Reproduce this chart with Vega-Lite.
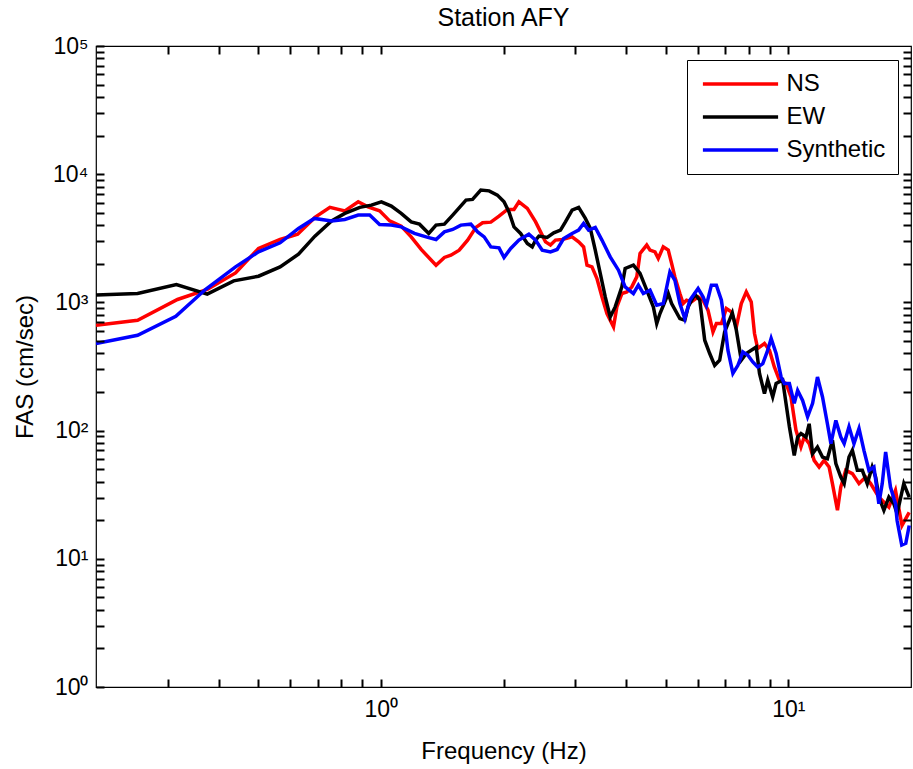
{
  "$schema": "https://vega.github.io/schema/vega-lite/v6.json",
  "width": 815,
  "height": 641,
  "autosize": {"type": "none"},
  "padding": {"left": 96, "top": 46, "right": 2, "bottom": 82},
  "background": "white",
  "config": {
    "view": {"stroke": "black", "strokeWidth": 1.2},
    "font": "Liberation Sans",
    "axis": {"grid": false, "domain": false, "ticks": true, "tickOpacity": 1, "tickColor": "#000000", "tickWidth": 2, "tickSize": 8, "offset": -8, "zindex": 1, "labelColor": "black", "titleColor": "black", "labelFont": "Liberation Sans", "titleFont": "Liberation Sans"}
  },
  "title": {"text": "Station AFY", "fontSize": 25, "fontWeight": "normal", "font": "Liberation Sans", "color": "black", "baseline": "alphabetic", "offset": 0, "dy": 16, "anchor": "middle"},
  "data": {"values": [
    {"s": "NS", "f": 0.2, "v": 664}, {"s": "NS", "f": 0.253, "v": 726}, {"s": "NS", "f": 0.317, "v": 1054}, {"s": "NS", "f": 0.375, "v": 1261}, {"s": "NS", "f": 0.44, "v": 1699}, {"s": "NS", "f": 0.501, "v": 2636}, {"s": "NS", "f": 0.566, "v": 3097}, {"s": "NS", "f": 0.625, "v": 3406}, {"s": "NS", "f": 0.689, "v": 4603}, {"s": "NS", "f": 0.75, "v": 5508}, {"s": "NS", "f": 0.816, "v": 5176}, {"s": "NS", "f": 0.88, "v": 6093}, {"s": "NS", "f": 0.93, "v": 5569}, {"s": "NS", "f": 0.993, "v": 5176}, {"s": "NS", "f": 1.051, "v": 4325}, {"s": "NS", "f": 1.122, "v": 3936}, {"s": "NS", "f": 1.187, "v": 3246}, {"s": "NS", "f": 1.256, "v": 2588}, {"s": "NS", "f": 1.366, "v": 1950}, {"s": "NS", "f": 1.432, "v": 2241}, {"s": "NS", "f": 1.486, "v": 2336}, {"s": "NS", "f": 1.557, "v": 2556}, {"s": "NS", "f": 1.633, "v": 3062}, {"s": "NS", "f": 1.711, "v": 3846}, {"s": "NS", "f": 1.777, "v": 4178}, {"s": "NS", "f": 1.862, "v": 4227}, {"s": "NS", "f": 1.95, "v": 4710}, {"s": "NS", "f": 2.045, "v": 5309}, {"s": "NS", "f": 2.122, "v": 5309}, {"s": "NS", "f": 2.182, "v": 6093}, {"s": "NS", "f": 2.288, "v": 5408}, {"s": "NS", "f": 2.398, "v": 4248}, {"s": "NS", "f": 2.466, "v": 3548}, {"s": "NS", "f": 2.536, "v": 2965}, {"s": "NS", "f": 2.608, "v": 2799}, {"s": "NS", "f": 2.683, "v": 3062}, {"s": "NS", "f": 2.786, "v": 3097}, {"s": "NS", "f": 2.947, "v": 3246}, {"s": "NS", "f": 3.058, "v": 2965}, {"s": "NS", "f": 3.145, "v": 2710}, {"s": "NS", "f": 3.206, "v": 1950}, {"s": "NS", "f": 3.297, "v": 1892}, {"s": "NS", "f": 3.391, "v": 1537}, {"s": "NS", "f": 3.488, "v": 1104}, {"s": "NS", "f": 3.588, "v": 819}, {"s": "NS", "f": 3.724, "v": 644}, {"s": "NS", "f": 3.795, "v": 922}, {"s": "NS", "f": 3.904, "v": 1173}, {"s": "NS", "f": 4.015, "v": 1208}, {"s": "NS", "f": 4.129, "v": 1321}, {"s": "NS", "f": 4.247, "v": 1581}, {"s": "NS", "f": 4.326, "v": 2409}, {"s": "NS", "f": 4.493, "v": 2799}, {"s": "NS", "f": 4.577, "v": 2556}, {"s": "NS", "f": 4.707, "v": 2479}, {"s": "NS", "f": 4.795, "v": 2202}, {"s": "NS", "f": 4.932, "v": 2710}, {"s": "NS", "f": 5.074, "v": 2556}, {"s": "NS", "f": 5.171, "v": 2014}, {"s": "NS", "f": 5.267, "v": 1581}, {"s": "NS", "f": 5.418, "v": 1173}, {"s": "NS", "f": 5.519, "v": 980}, {"s": "NS", "f": 5.626, "v": 1040}, {"s": "NS", "f": 5.786, "v": 1009}, {"s": "NS", "f": 6.005, "v": 1104}, {"s": "NS", "f": 6.175, "v": 1040}, {"s": "NS", "f": 6.351, "v": 869}, {"s": "NS", "f": 6.533, "v": 589}, {"s": "NS", "f": 6.659, "v": 684}, {"s": "NS", "f": 6.851, "v": 684}, {"s": "NS", "f": 7.045, "v": 896}, {"s": "NS", "f": 7.245, "v": 843}, {"s": "NS", "f": 7.454, "v": 644}, {"s": "NS", "f": 7.666, "v": 980}, {"s": "NS", "f": 7.885, "v": 1208}, {"s": "NS", "f": 8.11, "v": 1009}, {"s": "NS", "f": 8.26, "v": 572}, {"s": "NS", "f": 8.41, "v": 437}, {"s": "NS", "f": 8.738, "v": 478}, {"s": "NS", "f": 8.99, "v": 424}, {"s": "NS", "f": 9.24, "v": 314}, {"s": "NS", "f": 9.51, "v": 247}, {"s": "NS", "f": 9.871, "v": 233}, {"s": "NS", "f": 10.15, "v": 183}, {"s": "NS", "f": 10.44, "v": 101}, {"s": "NS", "f": 10.74, "v": 74.5}, {"s": "NS", "f": 10.94, "v": 89.1}, {"s": "NS", "f": 11.25, "v": 79.2}, {"s": "NS", "f": 11.57, "v": 58.6}, {"s": "NS", "f": 11.9, "v": 52}, {"s": "NS", "f": 12.24, "v": 58.6}, {"s": "NS", "f": 12.59, "v": 52}, {"s": "NS", "f": 12.83, "v": 38.6}, {"s": "NS", "f": 13.2, "v": 23.9}, {"s": "NS", "f": 13.45, "v": 36.3}, {"s": "NS", "f": 13.83, "v": 49}, {"s": "NS", "f": 14.36, "v": 46.2}, {"s": "NS", "f": 14.91, "v": 38.6}, {"s": "NS", "f": 15.48, "v": 43.4}, {"s": "NS", "f": 15.92, "v": 38.6}, {"s": "NS", "f": 16.68, "v": 30.3}, {"s": "NS", "f": 17.65, "v": 25.3}, {"s": "NS", "f": 18.32, "v": 34.2}, {"s": "NS", "f": 19.01, "v": 18.2}, {"s": "NS", "f": 19.8, "v": 23},
    {"s": "EW", "f": 0.2, "v": 1140}, {"s": "EW", "f": 0.253, "v": 1173}, {"s": "EW", "f": 0.315, "v": 1380}, {"s": "EW", "f": 0.375, "v": 1159}, {"s": "EW", "f": 0.4355, "v": 1472}, {"s": "EW", "f": 0.501, "v": 1601}, {"s": "EW", "f": 0.566, "v": 1892}, {"s": "EW", "f": 0.628, "v": 2378}, {"s": "EW", "f": 0.689, "v": 3289}, {"s": "EW", "f": 0.757, "v": 4325}, {"s": "EW", "f": 0.816, "v": 4943}, {"s": "EW", "f": 0.888, "v": 5508}, {"s": "EW", "f": 0.948, "v": 5741}, {"s": "EW", "f": 1.003, "v": 6093}, {"s": "EW", "f": 1.061, "v": 5636}, {"s": "EW", "f": 1.122, "v": 4943}, {"s": "EW", "f": 1.187, "v": 4248}, {"s": "EW", "f": 1.244, "v": 4077}, {"s": "EW", "f": 1.311, "v": 3451}, {"s": "EW", "f": 1.366, "v": 4008}, {"s": "EW", "f": 1.432, "v": 4077}, {"s": "EW", "f": 1.501, "v": 4797}, {"s": "EW", "f": 1.618, "v": 6279}, {"s": "EW", "f": 1.679, "v": 6356}, {"s": "EW", "f": 1.759, "v": 7516}, {"s": "EW", "f": 1.844, "v": 7413}, {"s": "EW", "f": 1.932, "v": 6871}, {"s": "EW", "f": 2.006, "v": 6093}, {"s": "EW", "f": 2.063, "v": 5083}, {"s": "EW", "f": 2.122, "v": 3882}, {"s": "EW", "f": 2.203, "v": 3451}, {"s": "EW", "f": 2.288, "v": 2884}, {"s": "EW", "f": 2.353, "v": 2710}, {"s": "EW", "f": 2.398, "v": 3062}, {"s": "EW", "f": 2.443, "v": 3289}, {"s": "EW", "f": 2.56, "v": 3213}, {"s": "EW", "f": 2.657, "v": 3491}, {"s": "EW", "f": 2.76, "v": 3664}, {"s": "EW", "f": 2.838, "v": 4248}, {"s": "EW", "f": 2.947, "v": 5248}, {"s": "EW", "f": 3.058, "v": 5508}, {"s": "EW", "f": 3.176, "v": 4519}, {"s": "EW", "f": 3.266, "v": 3776}, {"s": "EW", "f": 3.359, "v": 2556}, {"s": "EW", "f": 3.455, "v": 1682}, {"s": "EW", "f": 3.554, "v": 1104}, {"s": "EW", "f": 3.655, "v": 770}, {"s": "EW", "f": 3.759, "v": 922}, {"s": "EW", "f": 3.904, "v": 1321}, {"s": "EW", "f": 3.977, "v": 1841}, {"s": "EW", "f": 4.167, "v": 1950}, {"s": "EW", "f": 4.326, "v": 1682}, {"s": "EW", "f": 4.493, "v": 1245}, {"s": "EW", "f": 4.664, "v": 922}, {"s": "EW", "f": 4.754, "v": 684}, {"s": "EW", "f": 4.842, "v": 819}, {"s": "EW", "f": 5.074, "v": 1173}, {"s": "EW", "f": 5.171, "v": 980}, {"s": "EW", "f": 5.418, "v": 748}, {"s": "EW", "f": 5.572, "v": 726}, {"s": "EW", "f": 5.677, "v": 922}, {"s": "EW", "f": 5.895, "v": 1159}, {"s": "EW", "f": 6.063, "v": 1040}, {"s": "EW", "f": 6.235, "v": 507}, {"s": "EW", "f": 6.413, "v": 399}, {"s": "EW", "f": 6.596, "v": 323}, {"s": "EW", "f": 6.784, "v": 354}, {"s": "EW", "f": 6.977, "v": 589}, {"s": "EW", "f": 7.288, "v": 828}, {"s": "EW", "f": 7.454, "v": 607}, {"s": "EW", "f": 7.666, "v": 354}, {"s": "EW", "f": 7.885, "v": 399}, {"s": "EW", "f": 8.34, "v": 449}, {"s": "EW", "f": 8.497, "v": 279}, {"s": "EW", "f": 8.738, "v": 194}, {"s": "EW", "f": 8.902, "v": 247}, {"s": "EW", "f": 9.155, "v": 183}, {"s": "EW", "f": 9.333, "v": 233}, {"s": "EW", "f": 9.685, "v": 247}, {"s": "EW", "f": 9.871, "v": 163}, {"s": "EW", "f": 10.06, "v": 107}, {"s": "EW", "f": 10.34, "v": 64.1}, {"s": "EW", "f": 10.54, "v": 89.1}, {"s": "EW", "f": 10.74, "v": 94.8}, {"s": "EW", "f": 11.05, "v": 89.1}, {"s": "EW", "f": 11.25, "v": 113}, {"s": "EW", "f": 11.47, "v": 66.1}, {"s": "EW", "f": 11.79, "v": 74.5}, {"s": "EW", "f": 12.13, "v": 62.2}, {"s": "EW", "f": 12.47, "v": 60.4}, {"s": "EW", "f": 12.83, "v": 84}, {"s": "EW", "f": 13.08, "v": 55.3}, {"s": "EW", "f": 13.45, "v": 43.4}, {"s": "EW", "f": 13.71, "v": 38.6}, {"s": "EW", "f": 14.09, "v": 62.2}, {"s": "EW", "f": 14.36, "v": 70.2}, {"s": "EW", "f": 14.77, "v": 49}, {"s": "EW", "f": 15.19, "v": 49}, {"s": "EW", "f": 15.62, "v": 38.6}, {"s": "EW", "f": 16.06, "v": 52}, {"s": "EW", "f": 16.38, "v": 43.4}, {"s": "EW", "f": 16.68, "v": 30.3}, {"s": "EW", "f": 17.16, "v": 23.9}, {"s": "EW", "f": 17.65, "v": 30.3}, {"s": "EW", "f": 18.15, "v": 26.9}, {"s": "EW", "f": 18.49, "v": 22.5}, {"s": "EW", "f": 19.2, "v": 38.6}, {"s": "EW", "f": 19.8, "v": 30.3},
    {"s": "Synthetic", "f": 0.2, "v": 478}, {"s": "Synthetic", "f": 0.253, "v": 554}, {"s": "Synthetic", "f": 0.314, "v": 780}, {"s": "Synthetic", "f": 0.371, "v": 1261}, {"s": "Synthetic", "f": 0.44, "v": 1892}, {"s": "Synthetic", "f": 0.501, "v": 2479}, {"s": "Synthetic", "f": 0.566, "v": 2915}, {"s": "Synthetic", "f": 0.628, "v": 3776}, {"s": "Synthetic", "f": 0.687, "v": 4519}, {"s": "Synthetic", "f": 0.757, "v": 4325}, {"s": "Synthetic", "f": 0.816, "v": 4436}, {"s": "Synthetic", "f": 0.88, "v": 4797}, {"s": "Synthetic", "f": 0.939, "v": 4797}, {"s": "Synthetic", "f": 0.993, "v": 4056}, {"s": "Synthetic", "f": 1.061, "v": 4008}, {"s": "Synthetic", "f": 1.122, "v": 3882}, {"s": "Synthetic", "f": 1.209, "v": 3451}, {"s": "Synthetic", "f": 1.304, "v": 3213}, {"s": "Synthetic", "f": 1.366, "v": 3097}, {"s": "Synthetic", "f": 1.432, "v": 3548}, {"s": "Synthetic", "f": 1.501, "v": 3707}, {"s": "Synthetic", "f": 1.572, "v": 4008}, {"s": "Synthetic", "f": 1.663, "v": 4077}, {"s": "Synthetic", "f": 1.728, "v": 3548}, {"s": "Synthetic", "f": 1.793, "v": 3246}, {"s": "Synthetic", "f": 1.862, "v": 2710}, {"s": "Synthetic", "f": 1.95, "v": 2663}, {"s": "Synthetic", "f": 2.006, "v": 2241}, {"s": "Synthetic", "f": 2.083, "v": 2636}, {"s": "Synthetic", "f": 2.182, "v": 3062}, {"s": "Synthetic", "f": 2.308, "v": 3406}, {"s": "Synthetic", "f": 2.398, "v": 3062}, {"s": "Synthetic", "f": 2.489, "v": 2556}, {"s": "Synthetic", "f": 2.608, "v": 2479}, {"s": "Synthetic", "f": 2.708, "v": 2588}, {"s": "Synthetic", "f": 2.811, "v": 3155}, {"s": "Synthetic", "f": 2.947, "v": 3451}, {"s": "Synthetic", "f": 3.058, "v": 3664}, {"s": "Synthetic", "f": 3.145, "v": 4130}, {"s": "Synthetic", "f": 3.235, "v": 3664}, {"s": "Synthetic", "f": 3.359, "v": 3846}, {"s": "Synthetic", "f": 3.488, "v": 3062}, {"s": "Synthetic", "f": 3.655, "v": 2265}, {"s": "Synthetic", "f": 3.83, "v": 1784}, {"s": "Synthetic", "f": 3.977, "v": 1321}, {"s": "Synthetic", "f": 4.167, "v": 1173}, {"s": "Synthetic", "f": 4.285, "v": 1362}, {"s": "Synthetic", "f": 4.407, "v": 1173}, {"s": "Synthetic", "f": 4.577, "v": 1245}, {"s": "Synthetic", "f": 4.754, "v": 951}, {"s": "Synthetic", "f": 4.932, "v": 980}, {"s": "Synthetic", "f": 5.121, "v": 1730}, {"s": "Synthetic", "f": 5.267, "v": 1489}, {"s": "Synthetic", "f": 5.418, "v": 980}, {"s": "Synthetic", "f": 5.572, "v": 748}, {"s": "Synthetic", "f": 5.731, "v": 1040}, {"s": "Synthetic", "f": 6.005, "v": 1285}, {"s": "Synthetic", "f": 6.175, "v": 1104}, {"s": "Synthetic", "f": 6.295, "v": 951}, {"s": "Synthetic", "f": 6.474, "v": 1362}, {"s": "Synthetic", "f": 6.659, "v": 1362}, {"s": "Synthetic", "f": 6.851, "v": 1040}, {"s": "Synthetic", "f": 6.977, "v": 684}, {"s": "Synthetic", "f": 7.108, "v": 424}, {"s": "Synthetic", "f": 7.311, "v": 279}, {"s": "Synthetic", "f": 7.521, "v": 323}, {"s": "Synthetic", "f": 7.736, "v": 411}, {"s": "Synthetic", "f": 7.957, "v": 387}, {"s": "Synthetic", "f": 8.18, "v": 343}, {"s": "Synthetic", "f": 8.41, "v": 314}, {"s": "Synthetic", "f": 8.656, "v": 333}, {"s": "Synthetic", "f": 8.902, "v": 424}, {"s": "Synthetic", "f": 9.074, "v": 523}, {"s": "Synthetic", "f": 9.333, "v": 399}, {"s": "Synthetic", "f": 9.6, "v": 262}, {"s": "Synthetic", "f": 9.78, "v": 233}, {"s": "Synthetic", "f": 10.06, "v": 233}, {"s": "Synthetic", "f": 10.34, "v": 163}, {"s": "Synthetic", "f": 10.54, "v": 206}, {"s": "Synthetic", "f": 10.84, "v": 172}, {"s": "Synthetic", "f": 11.15, "v": 128}, {"s": "Synthetic", "f": 11.47, "v": 163}, {"s": "Synthetic", "f": 11.79, "v": 262}, {"s": "Synthetic", "f": 12.13, "v": 183}, {"s": "Synthetic", "f": 12.47, "v": 113}, {"s": "Synthetic", "f": 12.72, "v": 79.2}, {"s": "Synthetic", "f": 13.08, "v": 120}, {"s": "Synthetic", "f": 13.45, "v": 89.1}, {"s": "Synthetic", "f": 13.71, "v": 79.2}, {"s": "Synthetic", "f": 14.09, "v": 107}, {"s": "Synthetic", "f": 14.49, "v": 79.2}, {"s": "Synthetic", "f": 14.91, "v": 104}, {"s": "Synthetic", "f": 15.33, "v": 70.2}, {"s": "Synthetic", "f": 15.77, "v": 49}, {"s": "Synthetic", "f": 16.22, "v": 52}, {"s": "Synthetic", "f": 16.68, "v": 26.9}, {"s": "Synthetic", "f": 17.0, "v": 38.6}, {"s": "Synthetic", "f": 17.33, "v": 68.1}, {"s": "Synthetic", "f": 17.81, "v": 36.3}, {"s": "Synthetic", "f": 18.32, "v": 26.9}, {"s": "Synthetic", "f": 18.49, "v": 19.9}, {"s": "Synthetic", "f": 18.98, "v": 12.8}, {"s": "Synthetic", "f": 19.42, "v": 13.2}, {"s": "Synthetic", "f": 19.8, "v": 18.2}
  ]},
  "layer": [
    {
      "mark": {"type": "line", "strokeWidth": 3.5, "clip": true},
      "encoding": {
        "x": {"field": "f", "type": "quantitative", "scale": {"type": "log", "domain": [0.2, 20], "nice": false},
          "axis": {"orient": "bottom", "values": [0.3, 0.4, 0.5, 0.6, 0.7, 0.8, 0.9, 1, 2, 3, 4, 5, 6, 7, 8, 9, 10], "ticks": true, "tickSize": 8, "tickWidth": 2, "tickColor": "#000000", "zindex": 1,
            "labelExpr": "abs(log(datum.value)/LN10 - round(log(datum.value)/LN10)) < 0.001 ? '10' + substring('⁰¹²³⁴⁵', round(log(datum.value)/LN10), round(log(datum.value)/LN10) + 1) : ''",
            "labelFontSize": 23, "labelPadding": 11, "labelOverlap": false, "labelFlush": false,
            "title": "Frequency (Hz)", "titleFontSize": 24, "titleFontWeight": "normal", "titleBaseline": "alphabetic", "titleY": 79}},
        "y": {"field": "v", "type": "quantitative", "scale": {"type": "log", "domain": [1, 100000], "nice": false},
          "axis": {"orient": "left", "values": [1, 2, 3, 4, 5, 6, 7, 8, 9, 10, 20, 30, 40, 50, 60, 70, 80, 90, 100, 200, 300, 400, 500, 600, 700, 800, 900, 1000, 2000, 3000, 4000, 5000, 6000, 7000, 8000, 9000, 10000, 20000, 30000, 40000, 50000, 60000, 70000, 80000, 90000, 100000], "ticks": true, "tickSize": 8, "tickWidth": 2, "tickColor": "#000000", "zindex": 1,
            "labelExpr": "abs(log(datum.value)/LN10 - round(log(datum.value)/LN10)) < 0.001 ? '10' + substring('⁰¹²³⁴⁵', round(log(datum.value)/LN10), round(log(datum.value)/LN10) + 1) : ''",
            "labelFontSize": 23, "labelPadding": 8, "labelOverlap": false, "labelFlush": false,
            "title": "FAS (cm/sec)", "titleFontSize": 24, "titleFontWeight": "normal", "titleBaseline": "alphabetic", "titleAngle": -90, "titleAlign": "center", "titleX": -72, "titleY": 320.5}},
        "color": {"field": "s", "type": "nominal",
          "scale": {"domain": ["NS", "EW", "Synthetic"], "range": ["#ff0000", "#000000", "#0000ff"]},
          "legend": {"orient": "none", "legendX": 591, "legendY": 14, "title": null, "strokeColor": "black", "fillColor": "white", "padding": 12,
            "symbolType": "M-4.7,0H4.7", "symbolSize": 256, "symbolStrokeWidth": 3.5, "symbolOffset": 29.5, "labelOffset": 34,
            "labelFontSize": 24, "labelFont": "Liberation Sans", "labelColor": "black", "rowPadding": 9}}
      }
    },
    {
      "mark": {"type": "line", "opacity": 0},
      "encoding": {
        "x": {"field": "f", "type": "quantitative", "scale": {"type": "log", "domain": [0.2, 20], "nice": false},
          "axis": {"orient": "top", "values": [0.3, 0.4, 0.5, 0.6, 0.7, 0.8, 0.9, 1, 2, 3, 4, 5, 6, 7, 8, 9, 10], "labels": false, "title": null, "ticks": true, "tickSize": 8, "tickWidth": 2, "tickColor": "#000000", "zindex": 1}},
        "y": {"field": "v", "type": "quantitative", "scale": {"type": "log", "domain": [1, 100000], "nice": false},
          "axis": {"orient": "right", "values": [2, 3, 4, 5, 6, 7, 8, 9, 10, 20, 30, 40, 50, 60, 70, 80, 90, 100, 200, 300, 400, 500, 600, 700, 800, 900, 1000, 2000, 3000, 4000, 5000, 6000, 7000, 8000, 9000, 10000, 20000, 30000, 40000, 50000, 60000, 70000, 80000, 90000], "labels": false, "title": null, "ticks": true, "tickSize": 8, "tickWidth": 2, "tickColor": "#000000", "zindex": 1}},
        "detail": {"field": "s", "type": "nominal"}
      }
    }
  ],
  "resolve": {"axis": {"x": "independent", "y": "independent"}}
}
